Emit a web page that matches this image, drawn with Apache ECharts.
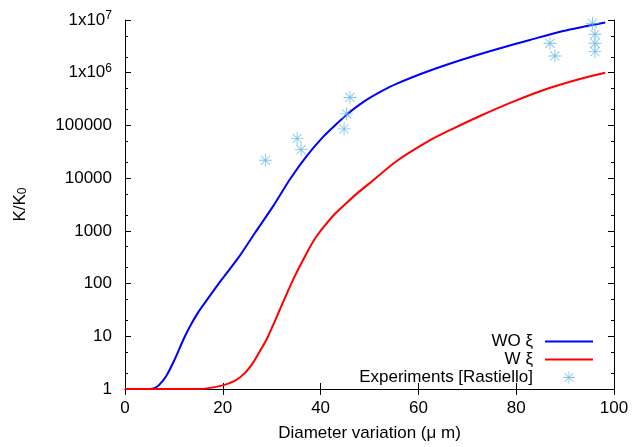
<!DOCTYPE html>
<html>
<head>
<meta charset="utf-8">
<script src="https://cdn.jsdelivr.net/npm/echarts@6/dist/echarts.min.js"></script>
<style>html,body{margin:0;padding:0;background:#fff}#c{width:632px;height:447px}</style>
</head>
<body>
<div id="c"></div>
<script>
// ---- data ----
var woX = [0, 5, 6, 7, 8.5, 10.2, 11.9, 13.3, 14.8, 16.4, 19.8, 23.2, 26.6, 30.3, 33.7, 37.1, 40.6, 43.5, 45.3, 48.7, 52.1, 55.5, 62.4, 69.2, 76.0, 82.8, 89.6, 98.2];
var woY = [1, 1, 1.04, 1.2, 1.8, 3.7, 8.5, 15.5, 26.9, 44, 120, 310, 920, 2940, 9400, 25900, 62000, 112000, 160000, 277000, 428000, 615000, 1100000, 1800000, 2790000, 4180000, 6190000, 9000000];
var wX = [0, 15, 19.8, 22.5, 24.5, 26.2, 27.6, 29.0, 31.7, 34.4, 37.2, 38.9, 40.6, 42.9, 45.3, 47.7, 50.1, 55.5, 62.4, 67.1, 72.6, 79.4, 86.2, 93.0, 98.2];
var wY = [1, 1, 1.16, 1.44, 2.0, 3.16, 5.25, 8.9, 32.6, 120, 385, 724, 1175, 2090, 3390, 5370, 8130, 20900, 52500, 87000, 151000, 282000, 490000, 759000, 1000000];
var expX = [28.7, 35.2, 36.0, 44.8, 45.3, 46.0, 86.9, 87.9, 95.6, 96.1, 96.1, 96.1];
var expY = [21800, 56800, 34700, 86000, 166000, 339000, 3620000, 2080000, 8650000, 5360000, 3620000, 2510000];
var seriesNames = ['WO ξ', 'W ξ', 'Experiments [Rastiello]'];
var yMinorLog = [];
for (var d = 0; d < 7; d++) { yMinorLog.push(d + Math.log10(2)); yMinorLog.push(d + Math.log10(5)); }

function pairs(xs, ys) { return xs.map(function (x, i) { return [x, ys[i]]; }); }

var FONT = 'Liberation Sans';
var star = 'path://M0 11.2H24V12.8H0Z M11.2 0H12.8V24H11.2Z M3 4.1L4.1 3L21 19.9L19.9 21Z M19.9 3L21 4.1L4.1 21L3 19.9Z';
var lineIcon = 'path://M0 0H48V2H0Z';

var chart = echarts.init(document.getElementById('c'), null, {renderer: 'canvas'});
var axisLineStyle = {show: true, lineStyle: {color: '#000', width: 1}};
var legendBase = {
  orient: 'horizontal', right: 34, align: 'right', itemWidth: 48, itemHeight: 12,
  textStyle: {fontFamily: FONT, fontSize: 17, color: '#000', padding: [0, 7, 0, 0]},
  selectedMode: false
};
var option = {
  animation: false,
  backgroundColor: '#fff',
  grid: {left: 125, right: 18, top: 20, bottom: 57, containLabel: false},
  xAxis: [
    {type: 'value', position: 'bottom', min: 0, max: 100, interval: 20,
     axisLine: axisLineStyle, splitLine: {show: false},
     axisTick: {inside: true, length: 6, lineStyle: {color: '#000'}},
     axisLabel: {margin: 11, fontFamily: FONT, fontSize: 17, color: '#000'},
     name: 'Diameter variation (μ m)', nameLocation: 'middle', nameGap: 36,
     nameTextStyle: {fontFamily: FONT, fontSize: 17, color: '#000'}},
    {type: 'value', position: 'top', min: 0, max: 100, interval: 20,
     axisLine: axisLineStyle, splitLine: {show: false},
     axisTick: {inside: true, length: 6, lineStyle: {color: '#000'}},
     axisLabel: {show: false}}
  ],
  yAxis: [
    {type: 'log', logBase: 10, position: 'left', min: 1, max: 1e7,
     axisLine: axisLineStyle, splitLine: {show: false}, minorTick: {show: false},
     axisTick: {inside: true, length: 6, lineStyle: {color: '#000'}},
     axisLabel: {margin: 13, fontFamily: FONT, fontSize: 17, color: '#000',
       formatter: function (v) {
         var e = Math.round(Math.log10(v));
         if (e >= 6) return '{b|1x10}{s|' + e + '}';
         return '{b|' + Math.round(v) + '}';
       },
       rich: {b: {fontFamily: FONT, fontSize: 17, color: '#000'},
              s: {fontFamily: FONT, fontSize: 12, color: '#000', padding: [0, 0, 9, 0]}}},
     name: '{a|K/K}{s|0}', nameLocation: 'middle', nameGap: 96, nameRotate: 90,
     nameTextStyle: {rich: {a: {fontFamily: FONT, fontSize: 17, color: '#000'},
                            s: {fontFamily: FONT, fontSize: 12, color: '#000', padding: [5, 0, 0, 0]}}}},
    {type: 'value', position: 'left', min: 0, max: 7,
     axisLine: {show: false}, splitLine: {show: false}, axisLabel: {show: false},
     axisTick: {inside: true, length: 3, customValues: yMinorLog, lineStyle: {color: '#000'}}},
    {type: 'log', logBase: 10, position: 'right', min: 1, max: 1e7,
     axisLine: axisLineStyle, splitLine: {show: false}, axisLabel: {show: false},
     axisTick: {inside: true, length: 6, lineStyle: {color: '#000'}}},
    {type: 'value', position: 'right', min: 0, max: 7,
     axisLine: {show: false}, splitLine: {show: false}, axisLabel: {show: false},
     axisTick: {inside: true, length: 3, customValues: yMinorLog, lineStyle: {color: '#000'}}}
  ],
  legend: [
    Object.assign({}, legendBase, {data: [{name: seriesNames[0], icon: lineIcon}], top: 328}),
    Object.assign({}, legendBase, {data: [{name: seriesNames[1], icon: lineIcon}], top: 346}),
    Object.assign({}, legendBase, {data: [{name: seriesNames[2], icon: star}], top: 364, right: 52})
  ],
  series: [
    {name: seriesNames[0], type: 'line', xAxisIndex: 0, yAxisIndex: 0, data: pairs(woX, woY),
     smooth: 0.25, symbol: 'none', lineStyle: {color: '#0000ff', width: 2}, itemStyle: {color: '#0000ff'}, z: 3},
    {name: seriesNames[1], type: 'line', xAxisIndex: 0, yAxisIndex: 0, data: pairs(wX, wY),
     smooth: 0.25, symbol: 'none', lineStyle: {color: '#ff0000', width: 2}, itemStyle: {color: '#ff0000'}, z: 3},
    {name: seriesNames[2], type: 'scatter', xAxisIndex: 0, yAxisIndex: 0, data: pairs(expX, expY),
     symbol: star, symbolSize: 13, itemStyle: {color: '#5ab4e8'}, z: 4}
  ]
};
chart.setOption(option);
</script>
</body>
</html>
